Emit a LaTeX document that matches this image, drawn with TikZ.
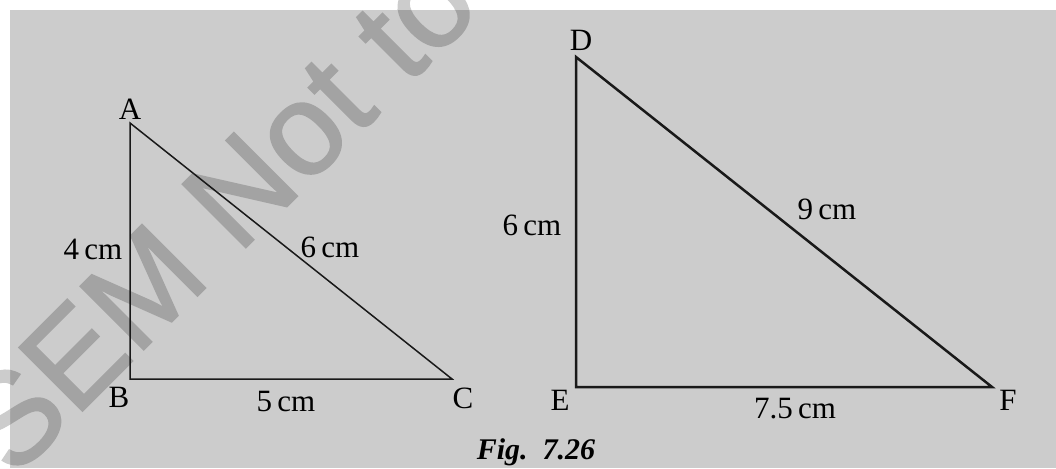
\documentclass[tikz,border=0pt]{standalone}
\usepackage{fontspec}
\setmainfont{Liberation Serif}
\newfontfamily\wmfont[FakeBold=1.5]{Liberation Sans}
\definecolor{bggray}{RGB}{204,204,204}
\definecolor{wmdark}{RGB}{163,163,163}
\definecolor{wmlight}{RGB}{204,204,204}
\begin{document}
\begin{tikzpicture}[x=1pt,y=-1pt,
  lbl/.style={inner sep=0pt, font=\fontsize{31}{33}\selectfont},
  wm/.style={rotate=45, inner sep=0pt, font=\wmfont\fontsize{130}{130}\selectfont},
  thinedge/.style={draw=black!90, line width=1.5pt},
  thickedge/.style={draw=black!90, line width=2.5pt}]
\useasboundingbox (0,0) rectangle (1056,468);
\fill[white] (0,0) rectangle (1056,468);
\fill[bggray] (10,10) rectangle (1056,468);
% watermark
\begin{scope}
\clip (10,10) rectangle (1056,468);
\node[wm, text=wmdark] (wm) at (217,213) {SEM Not to};
\end{scope}
\begin{scope}
\clip (0,0) -- (1056,0) -- (1056,10) -- (10,10) -- (10,468) -- (0,468) -- cycle;
\node[wm, text=wmlight] (wm2) at (217,213) {SEM Not to};
\end{scope}
% triangle ABC
\coordinate (A) at (130,123);
\coordinate (B) at (130,379);
\coordinate (C) at (452,379);
\draw[thinedge] (A) -- (B) -- (C) -- cycle;
% triangle DEF
\coordinate (D) at (576,57);
\coordinate (E) at (576,387);
\coordinate (F) at (992,387);
\draw[thickedge] (D) -- (E) -- (F) -- cycle;
% labels
\node[lbl] (lA) at (130,109) {A};
\node[lbl] (lB) at (119,397) {B};
\node[lbl] (lC) at (463,398) {C};
\node[lbl] (lAB) at (93,249) {4\,cm};
\node[lbl] (lAC) at (330,247) {6\,cm};
\node[lbl] (lBC) at (286,401) {5\,cm};
\node[lbl] (lD) at (581,40) {D};
\node[lbl] (lE) at (560,400) {E};
\node[lbl] (lF) at (1008,400) {F};
\node[lbl] (lDE) at (532,225) {6\,cm};
\node[lbl] (lDF) at (827,209) {9\,cm};
\node[lbl] (lEF) at (795,409) {7.5\,cm};
\node[lbl, font=\fontsize{30}{32}\selectfont\bfseries\itshape] (fig) at (536,452) {Fig.\ \ 7.26};
\end{tikzpicture}
\end{document}
